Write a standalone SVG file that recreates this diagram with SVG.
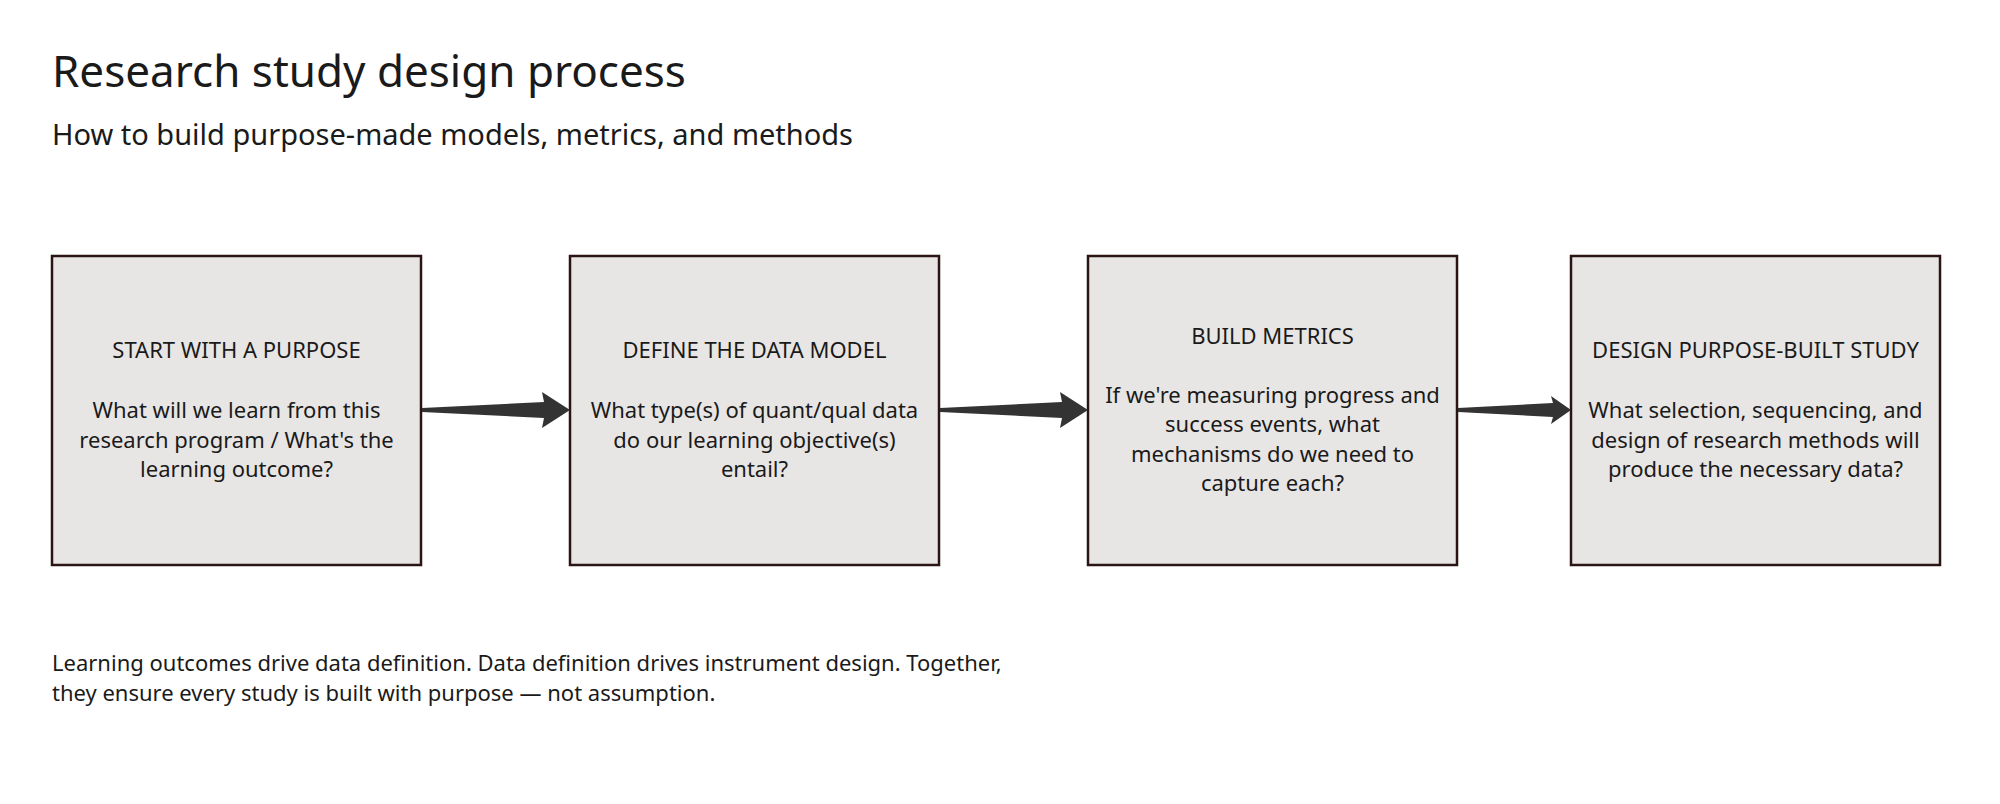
<svg xmlns="http://www.w3.org/2000/svg" width="2000" height="804" viewBox="0 0 2000 804">
<style>
text{font-family:"Noto Sans","Open Sans",sans-serif;fill:#1a1a1a}
.box{fill:#e8e6e5;stroke:#2a1414;stroke-width:2.5}
.t{font-size:22px;text-anchor:middle}
.arr{fill:#333}
</style>
<rect width="2000" height="804" fill="#fff"/>
<text x="52" y="87" font-size="44">Research study design process</text>
<text x="52" y="145" font-size="29">How to build purpose-made models, metrics, and methods</text>
<g id="n1"><rect class="box" x="52" y="256" width="369" height="309"/>
<text class="t" x="236.5" y="358">START WITH A PURPOSE</text>
<text class="t" x="236.5" y="418">What will we learn from this</text>
<text class="t" x="236.5" y="448">research program / What's the</text>
<text class="t" x="236.5" y="477">learning outcome?</text></g>
<g id="n2"><rect class="box" x="570" y="256" width="369" height="309"/>
<text class="t" x="754.5" y="358">DEFINE THE DATA MODEL</text>
<text class="t" x="754.5" y="418">What type(s) of quant/qual data</text>
<text class="t" x="754.5" y="448">do our learning objective(s)</text>
<text class="t" x="754.5" y="477">entail?</text></g>
<g id="n3"><rect class="box" x="1088" y="256" width="369" height="309"/>
<text class="t" x="1272.5" y="344">BUILD METRICS</text>
<text class="t" x="1272.5" y="403">If we're measuring progress and</text>
<text class="t" x="1272.5" y="432">success events, what</text>
<text class="t" x="1272.5" y="462">mechanisms do we need to</text>
<text class="t" x="1272.5" y="491">capture each?</text></g>
<g id="n4"><rect class="box" x="1571" y="256" width="369" height="309"/>
<text class="t" x="1755.5" y="358">DESIGN PURPOSE-BUILT STUDY</text>
<text class="t" x="1755.5" y="418">What selection, sequencing, and</text>
<text class="t" x="1755.5" y="448">design of research methods will</text>
<text class="t" x="1755.5" y="477">produce the necessary data?</text></g>
<g id="connectors">
<path class="arr" d="M422,408 L544,402 L542,392 L570,410 L542,428 L544,418 L422,412 Z"/>
<path class="arr" d="M940,408 L1062,402 L1060,392 L1088,410 L1060,428 L1062,418 L940,412 Z"/>
<path class="arr" d="M1458,408 L1553,403 L1551,396 L1571,410 L1551,424 L1553,417 L1458,412 Z"/>
</g>
<text x="52" y="671" font-size="22">Learning outcomes drive data definition. Data definition drives instrument design. Together,</text>
<text x="52" y="701" font-size="22">they ensure every study is built with purpose — not assumption.</text>
</svg>
